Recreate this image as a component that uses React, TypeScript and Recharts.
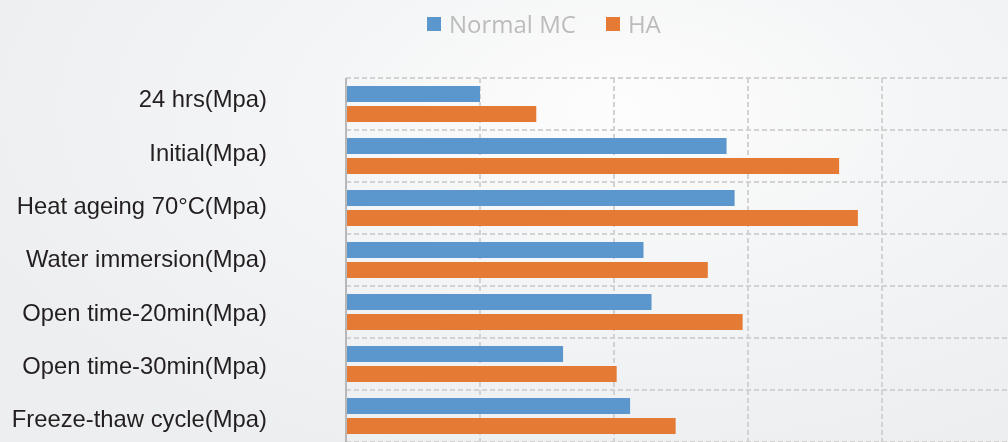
import React from 'react';
import { BarChart, Bar, XAxis, YAxis, CartesianGrid, Legend } from 'recharts';

const categories = [
  '24 hrs(Mpa)',
  'Initial(Mpa)',
  'Heat ageing 70°C(Mpa)',
  'Water immersion(Mpa)',
  'Open time-20min(Mpa)',
  'Open time-30min(Mpa)',
  'Freeze-thaw cycle(Mpa)',
];
const normalMC = [0.5, 1.42, 1.45, 1.11, 1.14, 0.81, 1.06];
const ha = [0.71, 1.84, 1.91, 1.35, 1.48, 1.01, 1.23];
const xTicks = [0, 0.5, 1, 1.5, 2, 2.5];
const seriesNames = ['Normal MC', 'HA'];
const seriesColors = ['#5b96cd', '#e47a34'];

const data = categories.map((c, i) => ({ name: c, normal: normalMC[i], ha: ha[i] }));

const renderLegend = () => (
  <div style={{ height: 78, position: 'relative' }}>
    <div
      style={{
        display: 'flex',
        alignItems: 'center',
        paddingLeft: 427,
        paddingTop: 9,
        fontFamily: '"Open Sans", sans-serif',
        fontSize: 24,
        color: '#bcbcbc',
        lineHeight: '30px',
      }}
    >
      {seriesNames.map((name, i) => (
        <div key={name} style={{ display: 'flex', alignItems: 'center', marginRight: 30 }}>
          <span
            style={{ width: 14, height: 14, background: seriesColors[i], display: 'inline-block', marginRight: 8 }}
          />
          <span>{name}</span>
        </div>
      ))}
    </div>
  </div>
);

const horizontalGen = ({ offset }: any) => {
  const n = categories.length;
  return Array.from({ length: n + 1 }, (_, i) => offset.top + (i * offset.height) / n);
};

const CategoryTick = (props: any) => {
  const { x, y, payload, index } = props;
  const shift = -5.3 + 1.38 * index;
  return (
    <text
      x={x}
      y={y + shift}
      dy="0.355em"
      textAnchor="end"
      fill="#231f20"
      fontSize={23.8}
      fontFamily='"Liberation Sans", Arial, sans-serif'
    >
      {payload.value}
    </text>
  );
};

export default function App() {
  return (
    <div
      style={{
        position: 'fixed',
        left: 0,
        top: 0,
        width: 1008,
        height: 442,
        overflow: 'hidden',
        background: 'radial-gradient(ellipse at 62% 25%, #fdfdfd 0%, #f4f5f6 35%, #eceef0 80%)',
      }}
    >
      <BarChart
        width={1040}
        height={460}
        data={data}
        layout="vertical"
        margin={{ top: 0, right: 24, bottom: 18, left: 0 }}
        barCategoryGap={8}
        barGap={4}
      >
        <CartesianGrid
          stroke="#d2d2d2"
          strokeWidth={2}
          strokeDasharray="5 3"
          horizontalCoordinatesGenerator={horizontalGen}
        />
        <XAxis type="number" domain={[0, 2.5]} ticks={xTicks} hide />
        <YAxis
          type="category"
          dataKey="name"
          width={346}
          tickLine={false}
          tickSize={0}
          tickMargin={79}
          axisLine={{ stroke: '#b8b8b8', strokeWidth: 2 }}
          tick={<CategoryTick />}
          interval={0}
        />
        <Legend verticalAlign="top" align="left" content={renderLegend} wrapperStyle={{ top: 0, left: 0 }} />
        <Bar dataKey="normal" name={seriesNames[0]} fill={seriesColors[0]} isAnimationActive={false} />
        <Bar dataKey="ha" name={seriesNames[1]} fill={seriesColors[1]} isAnimationActive={false} />
      </BarChart>
    </div>
  );
}
